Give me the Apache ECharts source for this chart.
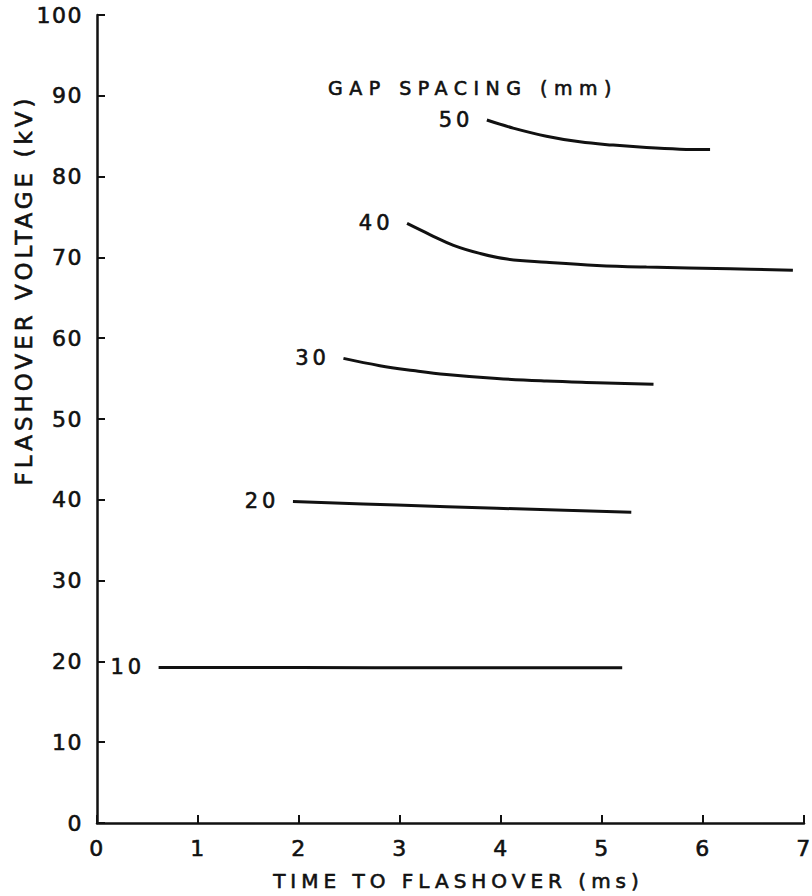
<!DOCTYPE html>
<html>
<head>
<meta charset="utf-8">
<script src="https://cdn.jsdelivr.net/npm/echarts@6/dist/echarts.min.js"></script>
<style>
  html, body { margin: 0; padding: 0; background: #fff; }
  #chart { width: 812px; height: 896px; }
</style>
</head>
<body>
<div id="chart"></div>
<script>
// ---- data ----
const gapNames = ['10', '20', '30', '40', '50'];
const gap10x = [0.61, 2.0, 3.5, 5.2];
const gap10y = [19.25, 19.25, 19.2, 19.2];
const gap20x = [1.94, 2.97, 3.96, 5.29];
const gap20y = [39.8, 39.35, 38.95, 38.45];
const gap30x = [2.44, 2.80, 3.13, 3.46, 3.96, 4.45, 4.95, 5.51];
const gap30y = [57.5, 56.6, 56.0, 55.5, 55.0, 54.7, 54.5, 54.3];
const gap40x = [3.07, 3.30, 3.53, 3.79, 4.06, 4.45, 4.95, 5.44, 6.27, 6.89];
const gap40y = [74.2, 72.8, 71.5, 70.5, 69.8, 69.4, 69.0, 68.8, 68.6, 68.4];
const gap50x = [3.86, 4.12, 4.45, 4.78, 5.11, 5.44, 5.77, 6.07];
const gap50y = [87.0, 86.0, 85.0, 84.3, 83.9, 83.6, 83.4, 83.35];
const xTicks = ['0', '1', '2', '3', '4', '5', '6', '7'];
const yTicks = ['0', '10', '20', '30', '40', '50', '60', '70', '80', '90', '100'];
const xTitle = 'TIME TO FLASHOVER (ms)';
const yTitle = 'FLASHOVER VOLTAGE (kV)';
const legendTitle = 'GAP SPACING (mm)';

const allX = [gap10x, gap20x, gap30x, gap40x, gap50x];
const allY = [gap10y, gap20y, gap30y, gap40y, gap50y];

const FONT = '"DejaVu Sans", sans-serif';
const INK = '#111';
const EMB = { textBorderColor: INK, textBorderWidth: 0.6 };

const series = gapNames.map((name, k) => ({
  type: 'line',
  name: name,
  data: allX[k].map((x, i) => [x, allY[k][i]]),
  smooth: 0.4,
  showSymbol: false,
  symbol: 'none',
  lineStyle: { color: INK, width: 3 },
  silent: true,
  markPoint: {
    silent: true,
    symbol: 'circle',
    symbolSize: 1,
    itemStyle: { color: 'rgba(0,0,0,0)' },
    label: Object.assign({
      show: true, position: 'left', distance: 13,
      formatter: name, color: INK, fontFamily: FONT, fontSize: 21
    }, EMB),
    data: [{ coord: [allX[k][0], allY[k][0]] }]
  }
}));

const chart = echarts.init(document.getElementById('chart'), null, { renderer: 'svg' });
chart.setOption({
  animation: false,
  backgroundColor: '#fff',
  title: {
    text: legendTitle,
    left: 468, top: 73, textAlign: 'center',
    textStyle: Object.assign({ color: INK, fontFamily: FONT, fontSize: 19, fontWeight: 'normal' }, EMB)
  },
  grid: { left: 97, right: 8, top: 15, bottom: 73, containLabel: false, outerBoundsMode: 'none' },
  xAxis: {
    type: 'value', min: 0, max: 7, interval: 1,
    name: xTitle, nameLocation: 'middle', nameGap: 48,
    nameTextStyle: Object.assign({ color: INK, fontFamily: FONT, fontSize: 20, padding: [0, 0, 0, 16] }, EMB),
    axisLine: { show: true, onZero: false, lineStyle: { color: INK, width: 2.5 } },
    axisTick: { show: true, inside: true, length: 8, lineStyle: { color: INK, width: 2 } },
    axisLabel: Object.assign({ color: INK, fontFamily: FONT, fontSize: 22, margin: 14,
      formatter: v => xTicks[Math.round(v)] }, EMB),
    splitLine: { show: false }
  },
  yAxis: {
    type: 'value', min: 0, max: 100, interval: 10,
    axisLine: { show: true, onZero: false, lineStyle: { color: INK, width: 2.5 } },
    axisTick: { show: true, inside: true, length: 8, lineStyle: { color: INK, width: 2 } },
    axisLabel: Object.assign({ color: INK, fontFamily: FONT, fontSize: 22, margin: 14,
      formatter: v => yTicks[Math.round(v / 10)] }, EMB),
    splitLine: { show: false }
  },
  graphic: [{
    type: 'text',
    x: 24, y: 290,
    rotation: Math.PI / 2,
    style: {
      text: yTitle, fill: INK, font: '23px "DejaVu Sans", sans-serif',
      stroke: INK, lineWidth: 0.6,
      align: 'center', verticalAlign: 'middle'
    },
    silent: true
  }],
  series: series
});

// letter spacing to imitate the hand-lettered spacing of the original
function spaceLetters() {
  const map = { '22': '1.5px', '23': '4px', '20': '5px', '19': '6.5px', '21': '4px' };
  document.querySelectorAll('#chart text').forEach(t => {
    const fs = Math.round(parseFloat(getComputedStyle(t).fontSize));
    if (map[fs]) t.style.letterSpacing = map[fs];
  });
}
chart.on('finished', spaceLetters);
setTimeout(spaceLetters, 50);
</script>
</body>
</html>
